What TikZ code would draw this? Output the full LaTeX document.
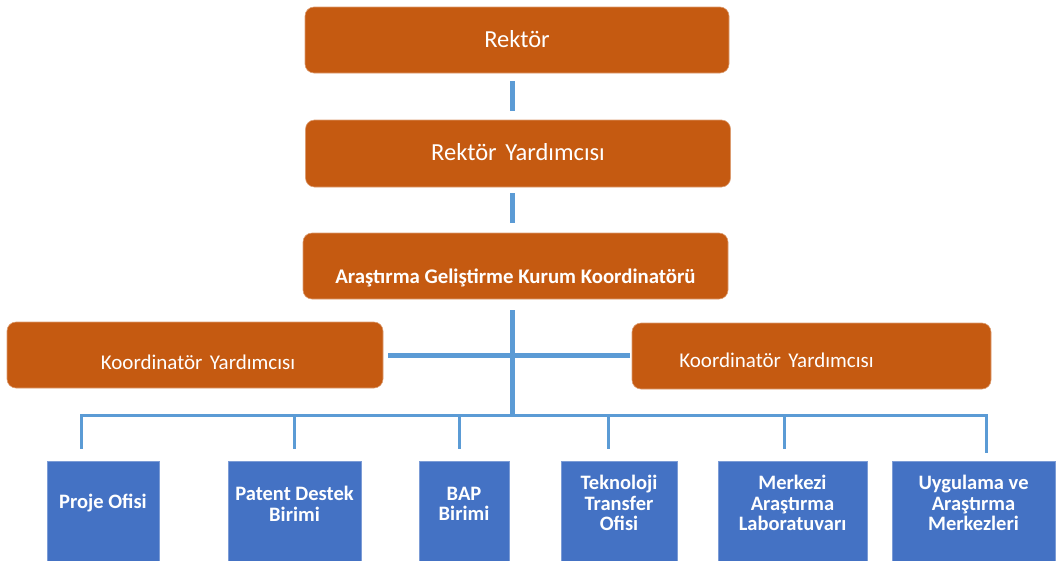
\documentclass[tikz,border=0pt]{standalone}
\usepackage{fontspec}
\setmainfont{Carlito}
\definecolor{borange}{HTML}{C55A11}
\definecolor{bblue}{HTML}{4472C4}
\definecolor{lblue}{HTML}{5B9BD5}
\begin{document}
\begin{tikzpicture}[x=1pt,y=-1pt,
  obox/.style={fill=borange, draw=borange!60!white, line width=0.6pt, rounded corners=9pt, inner sep=0pt},
  otext/.style={text=white, font=\fontsize{21}{24}\selectfont},
  ubox/.style={fill=bblue, draw=bblue!70!white, line width=0.5pt, inner sep=0pt},
  utext/.style={text=white, align=center, font=\bfseries\fontsize{20.5}{20.5}\selectfont},
  thick link/.style={draw=lblue, line width=5pt},
  bus/.style={draw=lblue, line width=3pt}]
\useasboundingbox (0,0) rectangle (1056,560);
% top chain
\node[obox, minimum width=424pt, minimum height=66pt,
  label={[otext, font=\fontsize{24.5}{26}\selectfont, yshift=1pt]center:Rektör}] (rek) at (517,40) {};
\node[obox, minimum width=425pt, minimum height=67pt,
  label={[otext, font=\fontsize{24.5}{26}\selectfont, yshift=1pt]center:Rektör\hspace{0.35em}Yardımcısı}] (ry) at (518,153.5) {};
\node[obox, minimum width=425pt, minimum height=66pt,
  label={[otext, font=\bfseries\fontsize{20.8}{22}\selectfont, yshift=-12pt]center:Araştırma Geliştirme Kurum Koordinatörü}] (agk) at (515.5,266) {};
% coordinator assistants
\node[obox, minimum width=376pt, minimum height=66pt,
  label={[otext, xshift=3pt, yshift=-7pt]center:Koordinatör\hspace{0.35em}Yardımcısı}] (kyl) at (195,355) {};
\node[obox, minimum width=359pt, minimum height=66pt,
  label={[otext, xshift=-35pt, yshift=-4pt]center:Koordinatör\hspace{0.35em}Yardımcısı}] (kyr) at (811.5,356) {};
% units
\node[ubox, minimum width=112pt, minimum height=104pt,
  label={[utext, yshift=10pt]center:Proje Ofisi}] (u1) at (103,513) {};
\node[ubox, minimum width=133pt, minimum height=104pt,
  label={[utext, yshift=9pt]center:Patent Destek\\Birimi}] (u2) at (294.5,513) {};
\node[ubox, minimum width=90pt, minimum height=104pt,
  label={[utext, yshift=9pt]center:BAP\\Birimi}] (u3) at (464,513) {};
\node[ubox, minimum width=116pt, minimum height=104pt,
  label={[utext, yshift=10pt]center:Teknoloji\\Transfer\\Ofisi}] (u4) at (619,513) {};
\node[ubox, minimum width=149pt, minimum height=104pt,
  label={[utext, yshift=10pt]center:Merkezi\\Araştırma\\Laboratuvarı}] (u5) at (792.5,513) {};
\node[ubox, minimum width=163pt, minimum height=104pt,
  label={[utext, yshift=10pt]center:Uygulama ve\\Araştırma\\Merkezleri}] (u6) at (973.5,513) {};
% connectors
\coordinate (busc) at (512.7,415);
\draw[thick link, shorten <=8pt, shorten >=9pt] (rek.south -| busc) -- (ry.north -| busc);
\draw[thick link, shorten <=6pt, shorten >=10pt] (ry.south -| busc) -- (agk.north -| busc);
\draw[thick link, shorten <=11pt] (agk.south -| busc) -- ([yshift=1pt]busc);
\draw[thick link, shorten <=5pt, shorten >=2pt] (kyl.east) -- (kyr.west |- kyl.east);
\coordinate (b1) at (81,415);
\coordinate (b6) at (986,415);
\draw[bus] ([yshift=12pt]u1.north -| b1) -- (b1) -- (b6) -- ([yshift=8pt]u6.north -| b6);
\foreach \u/\x in {u2/294, u3/459, u4/608, u5/784}{
  \draw[bus] (\x,415) -- ([yshift=12pt]\u.north -| {\x,0});
}
\end{tikzpicture}
\end{document}
